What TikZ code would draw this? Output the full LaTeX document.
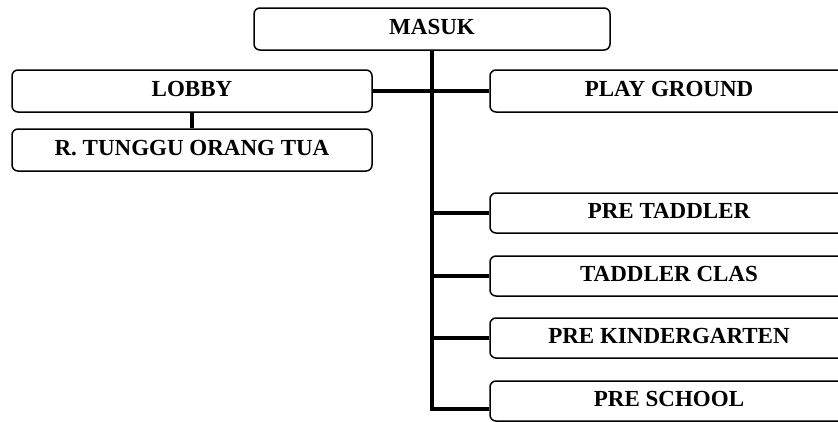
\documentclass[tikz,border=0pt]{standalone}
\usepackage{fontspec}
\setmainfont{Liberation Serif}
\begin{document}
\begin{tikzpicture}[x=1pt,y=-1pt,
  box/.style={draw=black,line width=1.5pt,rounded corners=6pt,minimum width=358pt,minimum height=42pt,
    inner sep=0pt,text height=15pt,text depth=5pt,font=\fontsize{23}{25}\selectfont\bfseries,align=center},
  link/.style={line width=4.5pt,line join=miter}]
\useasboundingbox (0,0) rectangle (838,421);
\clip (0,0) rectangle (838,421);
\node[box,minimum width=356pt] (masuk) at (432,29) {MASUK};
\node[box,minimum width=360pt] (lobby) at (192,91) {LOBBY};
\node[box,minimum width=360pt] (rt) at (192,150) {R. TUNGGU ORANG TUA};
\node[box] (play) at (669,91) {PLAY GROUND};
\node[box,minimum height=40pt] (pt) at (669,213) {PRE TADDLER};
\node[box,minimum height=40pt] (tc) at (669,276) {TADDLER CLAS};
\node[box,minimum height=40pt] (pk) at (669,338) {PRE KINDERGARTEN};
\node[box,minimum height=40pt] (ps) at (669,401) {PRE SCHOOL};
\coordinate (psin) at ([yshift=-8pt]ps.west);
\coordinate (tb) at (masuk.south |- psin);
\draw[link] (masuk.south) -- (tb) -- (psin);
\draw[link] (lobby.east) -- (play.west);
\draw[link] (lobby.south) -- (rt.north);
\draw[link] (masuk.south |- pt.west) -- (pt.west);
\draw[link] (masuk.south |- tc.west) -- (tc.west);
\draw[link] (masuk.south |- pk.west) -- (pk.west);
\end{tikzpicture}
\end{document}
